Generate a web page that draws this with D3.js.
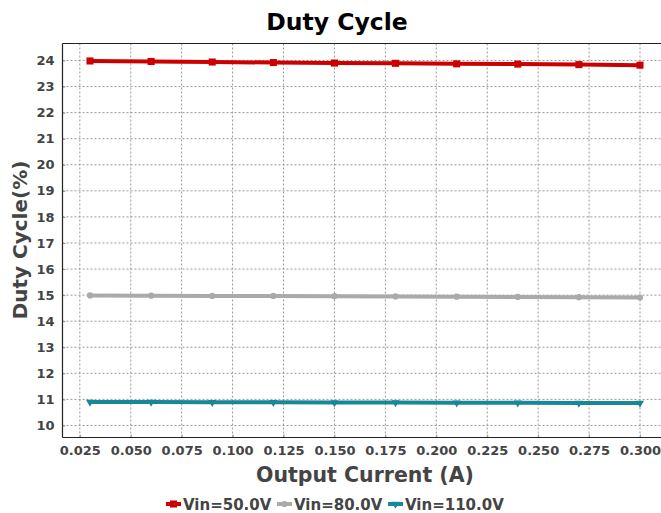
<!DOCTYPE html>
<html><head><meta charset="utf-8">
<script src="https://cdn.jsdelivr.net/npm/d3@7"></script>
<style>
body{margin:0;background:#fff;}
svg{display:block;font-family:"DejaVu Sans",sans-serif;}
</style></head>
<body><svg id="c" width="661" height="513"></svg>
<script>
const current = [0.03,0.06,0.09,0.12,0.15,0.18,0.21,0.24,0.27,0.30];
const vin50 = [23.98,23.96,23.94,23.92,23.90,23.89,23.87,23.86,23.84,23.82];
const vin80 = [14.99,14.98,14.97,14.97,14.96,14.95,14.94,14.93,14.92,14.91];
const vin110 = [10.90,10.90,10.89,10.89,10.88,10.88,10.87,10.87,10.86,10.86];
const seriesNames = ["Vin=50.0V","Vin=80.0V","Vin=110.0V"];
const xTicks = [0.025,0.05,0.075,0.1,0.125,0.15,0.175,0.2,0.225,0.25,0.275,0.3];
const yTicks = [10,11,12,13,14,15,16,17,18,19,20,21,22,23,24];

const colors = ["#cc0000","#aaaaaa","#17879a"];
const markers = [d3.symbolSquare, d3.symbolCircle, d3.symbolTriangle];
const markerSizes = [50,30,28];
const series = [vin50, vin80, vin110];

const svg = d3.select("#c");
const L=62.5, R=667.5, T=43.5, B=437.5;
const x = d3.scaleLinear().domain([0.0165,0.3135]).range([L,R]);
const y = d3.scaleLinear().domain([9.54,24.65]).range([B,T]);

// grid
const g = svg.append("g");
g.selectAll(".vg").data(xTicks).enter().append("line")
 .attr("x1",d=>x(d)).attr("x2",d=>x(d)).attr("y1",T).attr("y2",B)
 .attr("stroke","#999").attr("stroke-width",1).attr("stroke-dasharray","2,2");
g.selectAll(".hg").data(yTicks).enter().append("line")
 .attr("y1",d=>y(d)).attr("y2",d=>y(d)).attr("x1",L).attr("x2",R)
 .attr("stroke","#999").attr("stroke-width",1).attr("stroke-dasharray","2,2");

// axes
const xa = svg.append("g").attr("transform",`translate(0,${B})`)
 .call(d3.axisBottom(x).tickValues(xTicks).tickFormat(d3.format(".3f")).tickSizeInner(-3).tickSizeOuter(0).tickPadding(8));
const ya = svg.append("g").attr("transform",`translate(${L},0)`)
 .call(d3.axisLeft(y).tickValues(yTicks).tickFormat(d3.format("d")).tickSizeInner(-3).tickSizeOuter(0).tickPadding(8));
[xa,ya].forEach(a=>{
 a.select(".domain").remove();
 a.selectAll(".tick line").attr("stroke","#999");
 a.selectAll("text").attr("font-size","13px").attr("font-weight","bold").attr("fill","#444")
  .attr("font-family","DejaVu Sans");
});
// spines
svg.append("line").attr("x1",L).attr("x2",R).attr("y1",T).attr("y2",T).attr("stroke","#222").attr("stroke-width",1.2);
svg.append("line").attr("x1",L).attr("x2",R).attr("y1",B).attr("y2",B).attr("stroke","#222").attr("stroke-width",1.2);
svg.append("line").attr("x1",L).attr("x2",L).attr("y1",T).attr("y2",B).attr("stroke","#222").attr("stroke-width",1.2);

// lines
const line = d3.line().x((d,i)=>x(current[i])).y(d=>y(d));
series.forEach((s,k)=>{
 svg.append("path").datum(s).attr("d",line).attr("fill","none")
  .attr("stroke",colors[k]).attr("stroke-width",4);
 svg.selectAll(".m"+k).data(s).enter().append("path")
  .attr("transform",(d,i)=>`translate(${x(current[i])},${y(d)})${k==2?" rotate(180)":""}`)
  .attr("d",d3.symbol().type(markers[k]).size(markerSizes[k]))
  .attr("fill",colors[k]);
});

// titles
svg.append("text").attr("x",337).attr("y",30).attr("text-anchor","middle")
 .attr("font-size","23.5px").attr("font-weight","bold").attr("fill","#000").text("Duty Cycle");
svg.append("text").attr("x",365).attr("y",482).attr("text-anchor","middle")
 .attr("font-size","20.5px").attr("font-weight","bold").attr("fill","#444").text("Output Current (A)");
svg.append("text").attr("transform","translate(27,240) rotate(-90)").attr("text-anchor","middle")
 .attr("font-size","20px").attr("font-weight","bold").attr("fill","#444").text("Duty Cycle(%)");

// legend
const legX = [166,277,388];
seriesNames.forEach((n,k)=>{
 const lg = svg.append("g").attr("transform",`translate(${legX[k]},504)`);
 lg.append("line").attr("x1",0).attr("x2",15).attr("y1",0).attr("y2",0).attr("stroke",colors[k]).attr("stroke-width",4);
 lg.append("path").attr("transform",`translate(7.5,0)${k==2?" rotate(180)":""}`)
  .attr("d",d3.symbol().type(markers[k]).size(markerSizes[k])).attr("fill",colors[k]);
 lg.append("text").attr("x",17).attr("y",5.5).attr("font-size","15px").attr("font-weight","bold")
  .attr("fill","#444").text(n);
});
</script></body></html>
